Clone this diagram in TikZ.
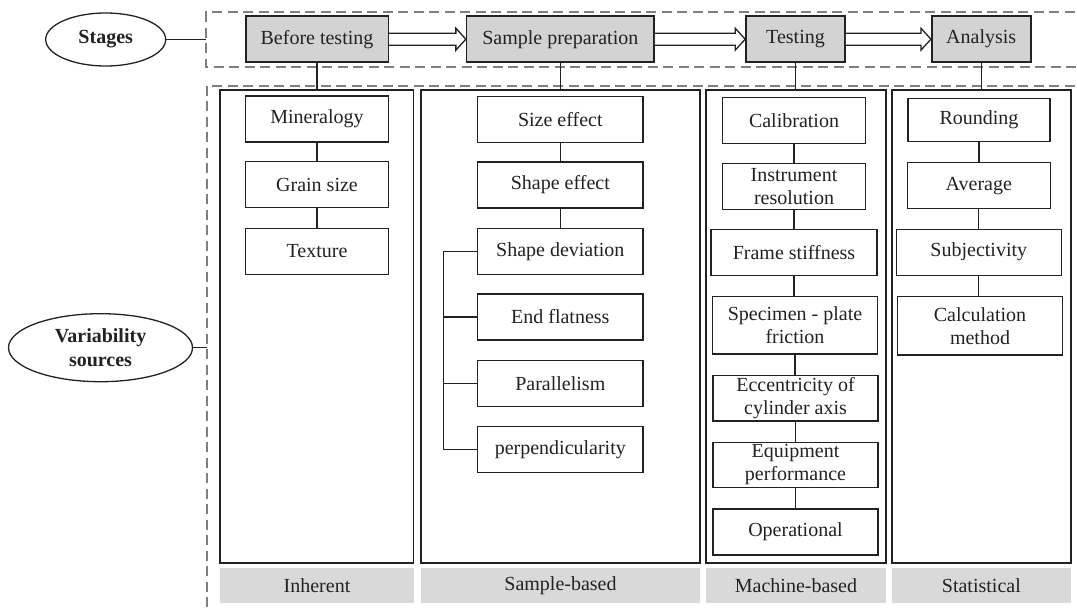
\documentclass[tikz,border=0pt]{standalone}
\usepackage{fontspec}
\setmainfont{Liberation Serif}
\usetikzlibrary{shapes.geometric,calc}
\definecolor{stagegray}{HTML}{D3D3D3}
\definecolor{labelgray}{HTML}{D9D9D9}
\definecolor{dashgray}{HTML}{7F7F7F}
\definecolor{ink}{HTML}{222222}
\newcommand\hollowarrow[2]{%
  \draw[hollow] ($(#1.east)+(0,-6)$) -- ($(#2.west)+(-10,-6)$) -- ($(#2.west)+(-10,-11)$)
    -- (#2.west) -- ($(#2.west)+(-10,11)$) -- ($(#2.west)+(-10,6)$) -- ($(#1.east)+(0,6)$);}
\tikzset{
  every node/.style={font=\fontsize{20}{23}\selectfont, inner sep=0pt, text=ink},
  stagebox/.style={draw=ink, line width=1.6pt, fill=stagegray, minimum height=46pt},
  itembox/.style={draw=ink, line width=1.4pt, fill=white, minimum height=46pt, align=center},
  colbox/.style={draw=ink, line width=1.7pt, minimum height=472.7pt},
  labelbox/.style={fill=labelgray, minimum height=35pt},
  oval/.style={draw=ink, ellipse, line width=1.3pt, font=\bfseries\fontsize{20}{24}\selectfont, align=center},
  conn/.style={draw=ink, line width=1.3pt},
  dashbox/.style={draw=dashgray, line width=1.8pt, dash pattern=on 10pt off 5.5pt},
  hollow/.style={draw=ink, line width=1.3pt, fill=white}
}
\begin{document}
\begin{tikzpicture}[x=1pt,y=-1pt]
\useasboundingbox (0,0) rectangle (1077,608);
\clip (0,0) rectangle (1077,608);
\fill[white] (0,0) rectangle (1077,608);

% dashed frames
\draw[dashbox] (1090,12.3) -- (206.3,12.3) -- (206.3,66.7) -- (1090,66.7);
\draw[dashbox] (1090,85.7) -- (206.7,85.7) -- (206.7,620);
\coordinate (stagesFrame) at (206.3,39.5);
\coordinate (varFrame) at (206.7,347.7);

% ellipses
\node[oval, minimum width=120pt, minimum height=53pt] (stages) at (105.7,39.5) {Stages};
\node[oval, minimum width=184pt, minimum height=68pt] (var) at (100.5,347.7) {Variability\\sources};
\draw[conn] (stages.east) -- (stagesFrame);
\draw[conn] (var.east) -- (varFrame);

% stage boxes
\node[stagebox, minimum width=142.6pt] (bt) at (317,39.2) {Before testing};
\node[stagebox, minimum width=187.3pt] (sp) at (560.3,39.2) {Sample preparation};
\node[stagebox, minimum width=99pt] (te) at (795.5,39.2) {Testing};
\node[stagebox, minimum width=99pt] (an) at (981.2,39.2) {Analysis};
\hollowarrow{bt}{sp}
\hollowarrow{sp}{te}
\hollowarrow{te}{an}

% columns
\node[colbox, minimum width=193.5pt] (colI) at (316.8,326.35) {};
\node[colbox, minimum width=279.3pt] (colS) at (560.35,326.35) {};
\node[colbox, minimum width=180pt] (colM) at (796,326.35) {};
\node[colbox, minimum width=179.3pt] (colT) at (981.35,326.35) {};
\draw[conn] (bt.south) -- (bt.south |- colI.north);
\draw[conn] (sp.south) -- (sp.south |- colS.north);
\draw[conn] (te.south) -- (te.south |- colM.north);
\draw[conn] (an.south) -- (an.south |- colT.north);

% labels
\node[labelbox, minimum width=194pt] (lI) at (317,585.8) {Inherent};
\node[labelbox, minimum width=279pt] (lS) at (560.5,585.8) {Sample-based};
\node[labelbox, minimum width=180pt] (lM) at (796,585.8) {Machine-based};
\node[labelbox, minimum width=179.3pt] (lT) at (981.35,585.8) {Statistical};

% inherent
\node[itembox, minimum width=143pt] (min) at (317,118.9) {Mineralogy};
\node[itembox, minimum width=143pt] (gra) at (317,184.5) {Grain size};
\node[itembox, minimum width=143pt] (tex) at (317,251.2) {Texture};
\draw[conn] (min.south) -- (gra.north);
\draw[conn] (gra.south) -- (tex.north);

% sample-based
\node[itembox, minimum width=165.7pt] (size) at (560.3,119.7) {Size effect};
\node[itembox, minimum width=165.7pt] (shape) at (560.3,185) {Shape effect};
\node[itembox, minimum width=165.7pt] (sdev) at (560.3,251.2) {Shape deviation};
\node[itembox, minimum width=165.7pt] (endf) at (560.3,317) {End flatness};
\node[itembox, minimum width=165.7pt] (par) at (560.3,383.7) {Parallelism};
\node[itembox, minimum width=165.7pt] (perp) at (560.3,449.5) {perpendicularity};
\draw[conn] (size.south) -- (shape.north);
\draw[conn] (shape.south) -- (sdev.north);
\draw[conn] (sdev.west) -- ++(-33.4,0) |- (perp.west);
\draw[conn] (endf.west) -- ++(-33.4,0);
\draw[conn] (par.west) -- ++(-33.4,0);

% machine-based
\node[itembox, minimum width=143pt] (cal) at (794,120.3) {Calibration};
\node[itembox, minimum width=143pt] (ins) at (794,186.2) {Instrument\\resolution};
\node[itembox, minimum width=165.7pt] (fra) at (794,252.5) {Frame stiffness};
\node[itembox, minimum width=165pt, minimum height=57.3pt] (spe) at (795,325.3) {Specimen - plate\\friction};
\node[itembox, minimum width=165pt, minimum height=45.3pt] (ecc) at (795.5,398.3) {Eccentricity of\\cylinder axis};
\node[itembox, minimum width=165pt, minimum height=45.3pt] (equ) at (795.5,465) {Equipment\\performance};
\node[itembox, minimum width=165pt] (ope) at (795.5,532) {Operational};
\draw[conn] (cal.south) -- (cal.south |- ins.north);
\draw[conn] (ins.south) -- (ins.south |- fra.north);
\draw[conn] (fra.south) -- (fra.south |- spe.north);
\draw[conn] (spe.south) -- (spe.south |- ecc.north);
\draw[conn] (ecc.south) -- (equ.north);
\draw[conn] (equ.south) -- (ope.north);

% statistical
\node[itembox, minimum width=142.3pt, minimum height=43pt] (rou) at (979,119.7) {Rounding};
\node[itembox, minimum width=143pt] (ave) at (978.8,185.7) {Average};
\node[itembox, minimum width=165pt] (sub) at (978.8,252.2) {Subjectivity};
\node[itembox, minimum width=165.4pt, minimum height=58.3pt] (calc) at (980,325.8) {Calculation\\method};
\draw[conn] (rou.south) -- (rou.south |- ave.north);
\draw[conn] (ave.south) -- (sub.north);
\draw[conn] (sub.south) -- (sub.south |- calc.north);
\end{tikzpicture}
\end{document}
